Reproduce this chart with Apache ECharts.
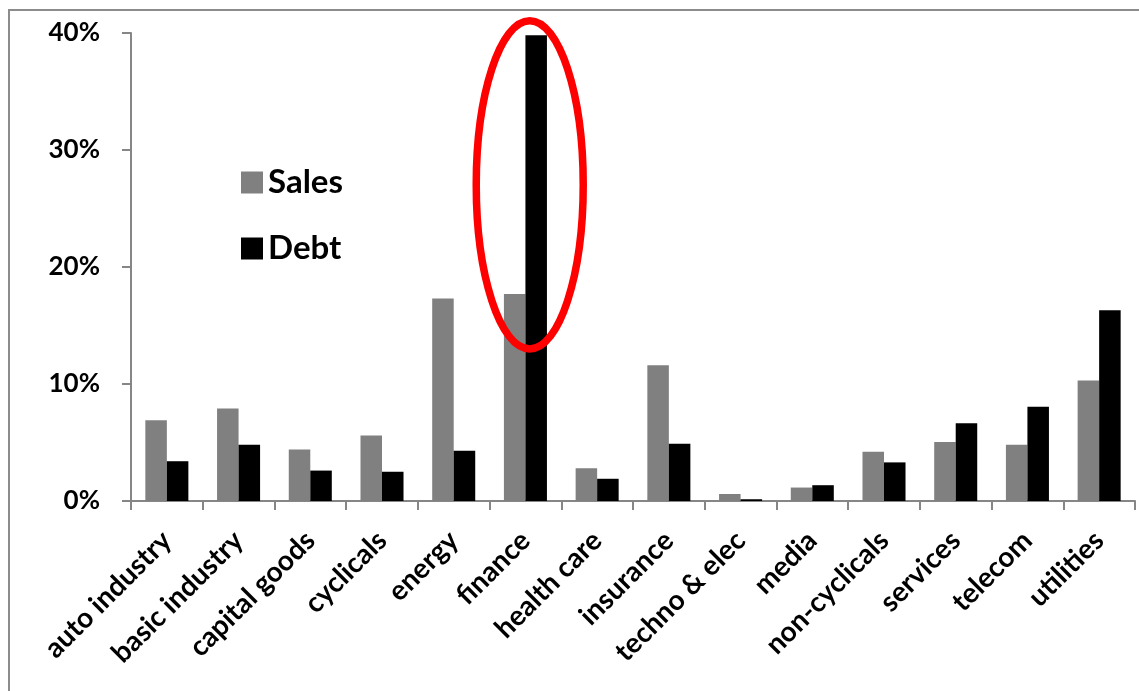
<!DOCTYPE html>
<html>
<head>
<meta charset="utf-8">
<script src="https://cdn.jsdelivr.net/npm/echarts@6/dist/echarts.min.js"></script>
<style>
html,body{margin:0;padding:0;background:#fff;}
#chart{width:1139px;height:691px;}
</style>
</head>
<body>
<div id="chart"></div>
<script>
const categories = ['auto industry','basic industry','capital goods','cyclicals','energy','finance','health care','insurance','techno & elec','media','non-cyclicals','services','telecom','utilities'];
const salesValues = [6.9, 7.9, 4.4, 5.6, 17.3, 17.7, 2.8, 11.6, 0.6, 1.15, 4.2, 5.05, 4.8, 10.3];
const debtValues  = [3.4, 4.8, 2.6, 2.5, 4.3, 39.8, 1.9, 4.9, 0.15, 1.35, 3.3, 6.65, 8.05, 16.3];
const yTicks = [0, 10, 20, 30, 40];
// annotation: ellipse around finance debt (value range and category)
const highlightCategory = 'finance';
const highlightTop = 41.05;
const highlightBottom = 13.0;

const FONT = 'Lato, "Open Sans", sans-serif';
const chart = echarts.init(document.getElementById('chart'), null, {renderer:'canvas'});
const option = {
  animation: false,
  backgroundColor: '#fff',
  grid: {left: 131, top: 33, right: 4, bottom: 190, containLabel: false},
  legend: {
    orient: 'vertical', left: 236, top: 161,
    itemWidth: 22, itemHeight: 22, itemGap: 33,
    icon: 'rect',
    textStyle: {fontFamily: FONT, fontWeight: 'bold', fontSize: 33, color: '#000', padding: [0,0,0,0]},
    data: ['Sales','Debt']
  },
  xAxis: {
    type: 'category', data: categories,
    axisLine: {lineStyle: {color: '#868686', width: 2}},
    axisTick: {show: true, length: 9, lineStyle: {color: '#868686', width: 2}, alignWithLabel: false},
    axisLabel: {interval: 0, rotate: 45, margin: 35, fontFamily: FONT, fontWeight: 'bold', fontSize: 28, color: '#000'}
  },
  yAxis: {
    type: 'value', min: 0, max: 40, interval: 10,
    splitLine: {show: false},
    axisLine: {show: true, lineStyle: {color: '#868686', width: 2}},
    axisTick: {show: true, length: 9, lineStyle: {color: '#868686', width: 2}},
    axisLabel: {margin: 31, fontFamily: FONT, fontWeight: 'bold', fontSize: 26, color: '#000',
      formatter: v => yTicks.includes(v) ? v + '%' : ''}
  },
  series: [
    {name: 'Sales', type: 'bar', data: salesValues, itemStyle: {color: '#808080'}, barGap: '0%', barCategoryGap: '40%'},
    {name: 'Debt', type: 'bar', data: debtValues, itemStyle: {color: '#000000'}, barGap: '0%', barCategoryGap: '40%'}
  ]
};
chart.setOption(option);

const cx0 = chart.convertToPixel({xAxisIndex: 0}, highlightCategory);
const cx1 = chart.convertToPixel({xAxisIndex: 0}, categories[categories.indexOf(highlightCategory)+1]);
const catW = cx1 - cx0;
const yTop = chart.convertToPixel({yAxisIndex: 0}, highlightTop);
const yBot = chart.convertToPixel({yAxisIndex: 0}, highlightBottom);
chart.setOption({
  graphic: [
    {type: 'rect', shape: {x: 9, y: 10, width: 1200, height: 800}, style: {fill: 'none', stroke: '#8c8c8c', lineWidth: 2}, z: -1, silent: true},
    {type: 'ellipse', shape: {cx: cx0 + catW*0.06, cy: (yTop + yBot)/2, rx: catW*0.746, ry: (yBot - yTop)/2},
     style: {fill: 'none', stroke: '#ff0000', lineWidth: 7.5}, z: 100, silent: true}
  ]
});
</script>
</body>
</html>
